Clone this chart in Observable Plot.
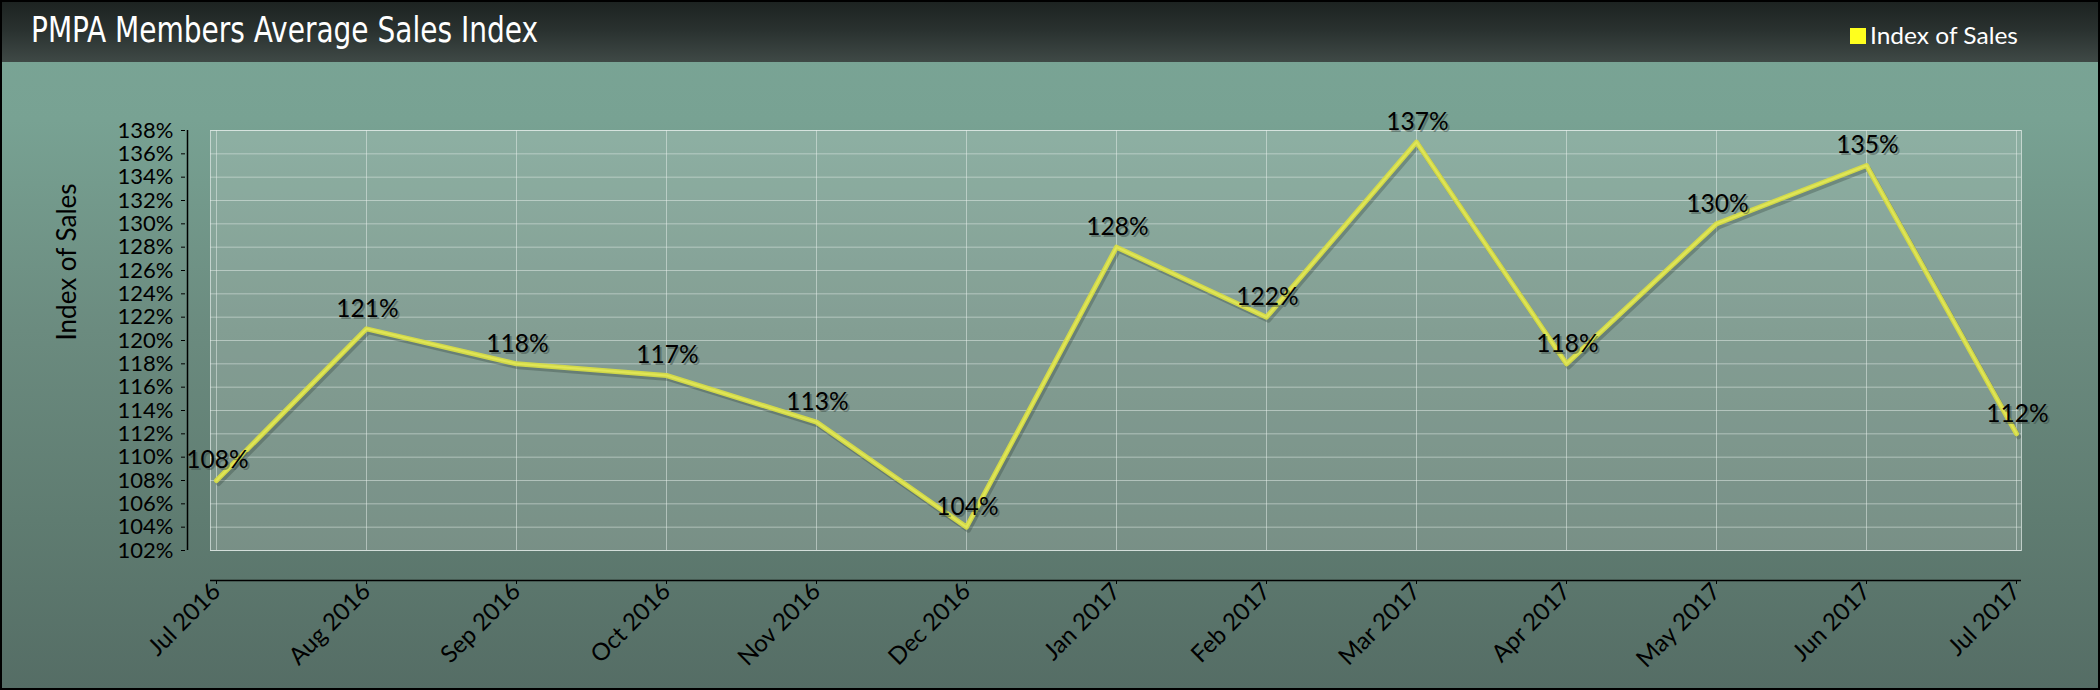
<!DOCTYPE html>
<html>
<head>
<meta charset="utf-8">
<script src="https://cdn.jsdelivr.net/npm/d3@7"></script>
<script src="https://cdn.jsdelivr.net/npm/@observablehq/plot@0.6"></script>
<style>
  html, body { margin: 0; padding: 0; background: #000; }
  #chart {
    position: relative; width: 2100px; height: 690px; overflow: hidden;
    background: linear-gradient(to bottom, #7aa596 0px, #78a293 120px, #6b8b7f 330px, #5f7c71 520px, #556d65 690px);
  }
  #header {
    position: absolute; left: 0; top: 0; width: 2100px; height: 62px;
    background: linear-gradient(to bottom, #1c2220 0%, #2a3230 50%, #3f4946 100%);
  }
  #plotwrap { position: absolute; left: 0; top: 62px; }
  #border {
    position: absolute; left: 0; top: 0; width: 2100px; height: 690px;
    box-sizing: border-box; border: 2px solid #000; pointer-events: none;
  }
</style>
</head>
<body>
<div id="chart">
  <svg id="header" width="2100" height="62">
    <text id="title" x="31" y="42" font-family="DejaVu Sans" font-stretch="condensed" font-size="36"
          textLength="507" lengthAdjust="spacingAndGlyphs" fill="#ffffff">PMPA Members Average Sales Index</text>
    <rect x="1850" y="28" width="16" height="16" fill="#ffff1e"></rect>
    <text id="legendText" x="1870" y="44" font-family="Lato" font-size="23" fill="#ffffff"
          textLength="148" lengthAdjust="spacingAndGlyphs">Index of Sales</text>
  </svg>
  <div id="plotwrap"></div>
  <div id="border"></div>
</div>
<script>
// ---- data ----
const months = ["Jul 2016", "Aug 2016", "Sep 2016", "Oct 2016", "Nov 2016", "Dec 2016",
                "Jan 2017", "Feb 2017", "Mar 2017", "Apr 2017", "May 2017", "Jun 2017", "Jul 2017"];
const salesIndex = [108, 121, 118, 117, 113, 104, 128, 122, 137, 118, 130, 135, 112];
const yTicks = [102, 104, 106, 108, 110, 112, 114, 116, 118, 120, 122, 124, 126, 128, 130, 132, 134, 136, 138];
const yTitle = ["Index of Sales"];

const data = months.map((m, i) => ({month: m, value: salesIndex[i]}));

const plot = Plot.plot({
  width: 2100,
  height: 628,
  marginLeft: 210,
  marginRight: 79,
  marginTop: 68,
  marginBottom: 140,
  style: {background: "transparent", fontFamily: "Lato, 'Open Sans', sans-serif", fontSize: "22px", color: "#000"},
  x: {type: "point", domain: months, padding: 0, label: null},
  y: {domain: [102, 138], label: null},
  marks: [
    Plot.frame({fill: "#e4ece8", fillOpacity: 0.2, stroke: "#dbe5e1", strokeOpacity: 0.75}),
    Plot.gridX({stroke: "#e8f0ec", strokeOpacity: 0.5, strokeWidth: 1}),
    Plot.gridY(yTicks, {stroke: "#e8f0ec", strokeOpacity: 0.5, strokeWidth: 1}),
    Plot.ruleY([102], {dy: 30, stroke: "#000", strokeWidth: 1.5}),
    Plot.ruleX([months[0]], {dx: -29, stroke: "#000", strokeWidth: 1.5}),
    Plot.axisX({dy: 30, tickSize: 4, tickPadding: 3, tickRotate: -45, fontSize: 24, stroke: "#000", fill: "#000", label: null}),
    Plot.axisY(yTicks, {dx: -29, tickSize: -4, tickFormat: () => "", label: null, stroke: "#000"}),
    Plot.axisY(yTicks, {dx: -29, tickSize: 0, tickPadding: 8, tickFormat: d => d + "%", fontSize: 22, fill: "#000", label: null}),
    Plot.text(yTitle, {frameAnchor: "left", dx: -143, rotate: -90, fontSize: 26, fill: "#000"}),
    Plot.line(data, {x: "month", y: "value", stroke: "#2c3d36", strokeOpacity: 0.3, strokeWidth: 5, dx: 2, dy: 3}),
    Plot.line(data, {x: "month", y: "value", stroke: "#d6dc46", strokeWidth: 5, strokeOpacity: 0.95}),
    Plot.line(data, {x: "month", y: "value", stroke: "#e4e85a", strokeWidth: 2, strokeOpacity: 0.8}),
    Plot.text(data, {x: "month", y: "value", text: d => d.value + "%", dy: -18, dx: 3, fontSize: 24.5, fill: "#3e4f48", fillOpacity: 0.5}),
    Plot.text(data, {x: "month", y: "value", text: d => d.value + "%", dy: -20, dx: 1, fontSize: 24.5, fill: "#000"})
  ]
});
document.getElementById("plotwrap").appendChild(plot);
</script>
</body>
</html>
